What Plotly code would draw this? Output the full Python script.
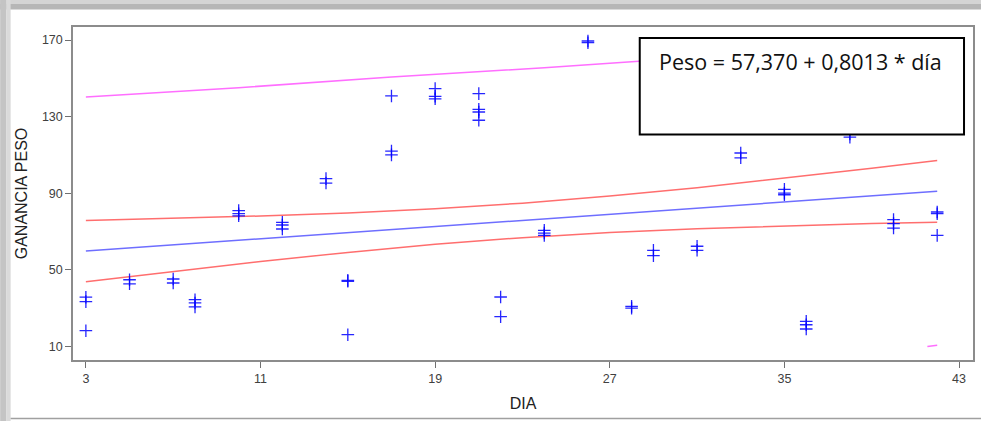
import plotly.graph_objects as go

# ---- data ----
dia = [3, 3, 3, 5, 5, 7, 7, 8, 8, 8, 10, 10, 10, 12, 12, 12, 14, 14, 15, 15, 15,
       17, 17, 17, 19, 19, 19, 21, 21, 21, 21, 22, 22, 24, 24, 24, 26, 26, 28, 28,
       29, 29, 31, 31, 33, 33, 35, 35, 35, 36, 36, 36, 38, 38, 40, 40, 40, 42, 42, 42]
ganancia = [35.7, 33.4, 18.2, 44.8, 42.7, 45.2, 43.1, 34.4, 32.7, 30.6, 80.9, 79.3, 78.2,
            74.8, 73.4, 71.3, 97.6, 95.3, 44.5, 44.0, 16.1, 140.8, 112.0, 110.0,
            144.6, 140.6, 139.3, 142.0, 133.8, 132.4, 128.1, 35.8, 25.5, 70.6, 69.2, 68.0,
            169.5, 168.6, 30.9, 30.0, 60.2, 57.4, 62.3, 60.2, 111.0, 108.5, 92.0, 90.0, 89.2,
            23.1, 21.3, 19.1, 121.0, 119.3, 76.2, 74.1, 71.8, 80.2, 79.3, 68.0]

fit_x = [3, 42]
fit_y = [59.8, 91.0]

ci_x = [3, 7, 11, 15, 19, 23, 27, 31, 35, 39, 42]
ci_hi = [75.8, 76.8, 78.1, 79.7, 81.9, 84.8, 88.5, 92.9, 97.8, 103.0, 107.1]
ci_lo = [43.8, 49.2, 54.3, 59.1, 63.3, 66.8, 69.5, 71.5, 73.0, 74.2, 74.9]

pi_hi_x = [3, 10, 17, 24, 29, 35, 42]
pi_hi = [140.2, 145.1, 150.7, 155.5, 159.4, 165.2, 170.8]
pi_lo_x = [41.55, 42]
pi_lo = [9.9, 10.6]

x_ticks = [3, 11, 19, 27, 35, 43]
y_ticks = [10, 50, 90, 130, 170]
equation = "Peso = 57,370 + 0,8013 * día"

# ---- figure ----
W, H = 983, 421
L, R, T, B = 73, 975, 27, 360

def px(x):
    return (x - L) / (R - L)

def py(y):
    return (B - y) / (B - T)

fig = go.Figure()
red = "rgb(255,110,110)"
mag = "rgb(255,110,255)"
blu = "rgb(110,110,255)"
fig.add_trace(go.Scatter(x=pi_hi_x, y=pi_hi, mode="lines", line=dict(color=mag, width=1.5), showlegend=False))
fig.add_trace(go.Scatter(x=pi_lo_x, y=pi_lo, mode="lines", line=dict(color=mag, width=1.5), showlegend=False))
fig.add_trace(go.Scatter(x=ci_x, y=ci_hi, mode="lines", line=dict(color=red, width=1.5), showlegend=False))
fig.add_trace(go.Scatter(x=ci_x, y=ci_lo, mode="lines", line=dict(color=red, width=1.5), showlegend=False))
fig.add_trace(go.Scatter(x=fit_x, y=fit_y, mode="lines", line=dict(color=blu, width=1.5), showlegend=False))
fig.add_trace(go.Scatter(x=dia, y=ganancia, mode="markers",
                         marker=dict(symbol="cross-thin", size=9,
                                     line=dict(color="rgba(0,0,255,0.85)", width=1.3)),
                         showlegend=False))

shapes = [
    # frame decoration (screenshot border)
    dict(type="rect", xref="paper", yref="paper", x0=px(0), x1=px(W), y0=py(4), y1=py(0),
         fillcolor="#d4d4d4", line=dict(width=0), layer="above"),
    dict(type="rect", xref="paper", yref="paper", x0=px(0), x1=px(W), y0=py(9.5), y1=py(4),
         fillcolor="#b6b6b6", line=dict(width=0), layer="above"),
    dict(type="rect", xref="paper", yref="paper", x0=px(0), x1=px(6), y0=py(H), y1=py(0),
         fillcolor="#c4c4c4", line=dict(width=0), layer="above"),
    dict(type="rect", xref="paper", yref="paper", x0=px(6), x1=px(10.5), y0=py(H), y1=py(0),
         fillcolor="#dadada", line=dict(width=0), layer="above"),
    dict(type="line", xref="paper", yref="paper", x0=px(10.5), x1=px(W), y0=py(418.5), y1=py(418.5),
         line=dict(color="#a0a0a0", width=1.5), layer="above"),
    # equation box
    dict(type="rect", xref="paper", yref="paper", x0=px(641), x1=px(966), y0=py(134.5), y1=py(38),
         fillcolor="white", line=dict(color="black", width=2), layer="above"),
]

fig.update_layout(
    width=W, height=H,
    margin=dict(l=L, r=W - R, t=T, b=H - B),
    paper_bgcolor="white", plot_bgcolor="white",
    shapes=shapes,
    annotations=[dict(text=equation, xref="paper", yref="paper", x=px(802), y=py(61),
                      xanchor="center", yanchor="middle", showarrow=False,
                      font=dict(family="Open Sans", size=21.5, color="#111111"))],
    xaxis=dict(range=[2.41, 43.64], tickvals=x_ticks, ticktext=[str(v) for v in x_ticks],
               showgrid=False, zeroline=False, showline=True, mirror=True,
               linecolor="#8c8c8c", linewidth=1.5, ticks="outside", ticklen=6,
               tickcolor="#707070", tickwidth=1.2,
               tickfont=dict(family="Liberation Sans", size=12.5, color="#404040"),
               title=dict(text="DIA", standoff=13,
                          font=dict(family="Liberation Sans", size=16, color="#222222"))),
    yaxis=dict(range=[2.9, 176.8], tickvals=y_ticks, ticktext=[str(v) for v in y_ticks],
               showgrid=False, zeroline=False, showline=True, mirror=True,
               linecolor="#8c8c8c", linewidth=1.5, ticks="outside", ticklen=6,
               tickcolor="#707070", tickwidth=1.2,
               tickfont=dict(family="Liberation Sans", size=12.5, color="#404040"),
               title=dict(text="GANANCIA PESO", standoff=10,
                          font=dict(family="Liberation Sans", size=16, color="#222222"))),
)

fig.write_html("out.html")
